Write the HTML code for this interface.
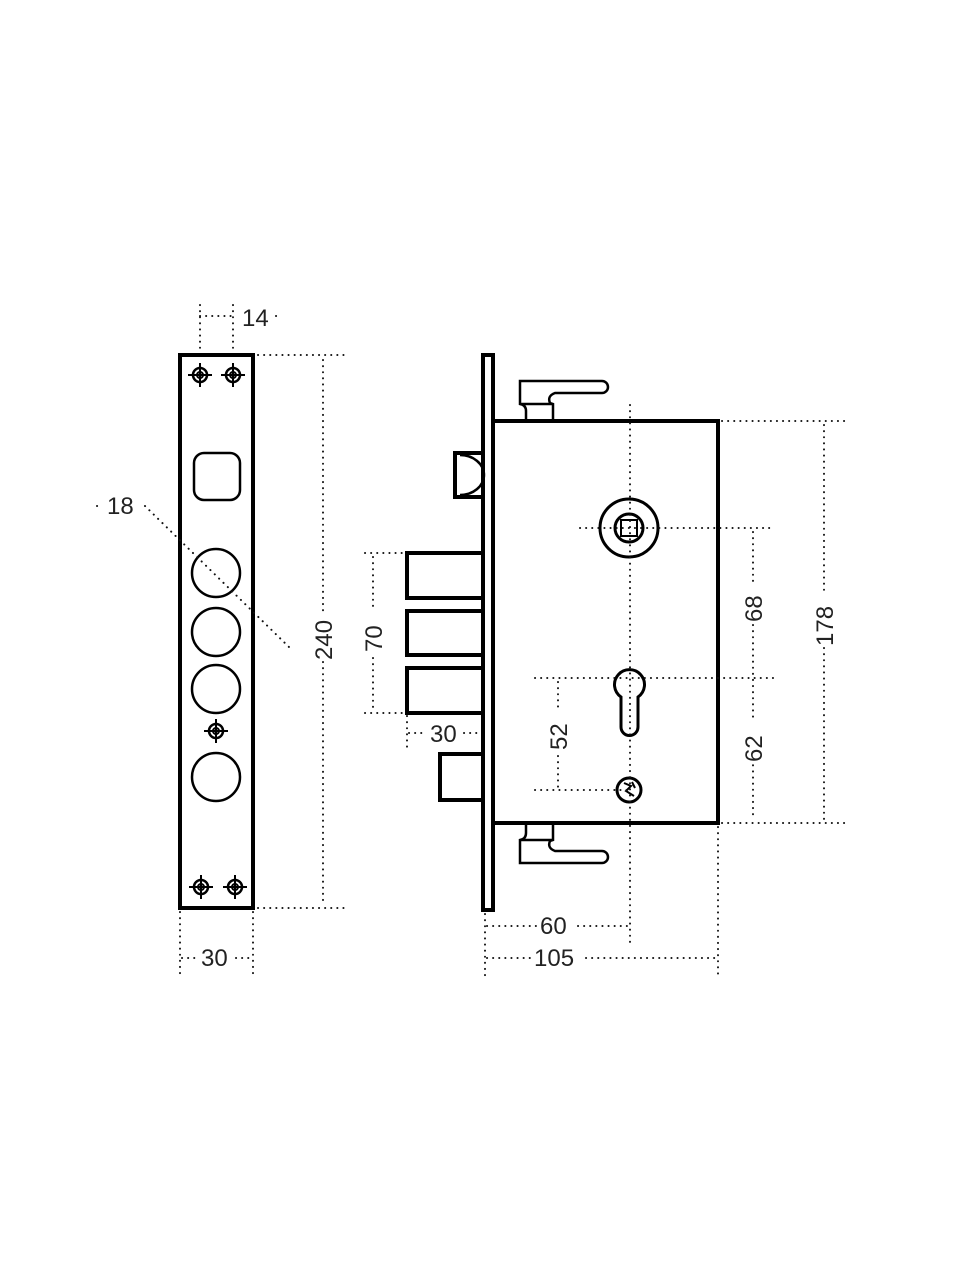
<!DOCTYPE html>
<html><head><meta charset="utf-8"><style>
html,body{margin:0;padding:0;background:#fff}
svg{display:block}
text{font-family:"Liberation Sans",sans-serif;font-size:24px;fill:#222}
.d{stroke:#111;stroke-width:2;stroke-dasharray:0.1 6;stroke-linecap:round;fill:none}
.s{stroke:#000;fill:none}
</style></head><body>
<svg width="960" height="1280" viewBox="0 0 960 1280" xmlns="http://www.w3.org/2000/svg">
<defs>
<g id="scr"><circle r="7" class="s" stroke-width="2.5"/><circle r="3" class="s" stroke-width="2"/><line x1="-12" y1="0" x2="12" y2="0" stroke="#000" stroke-width="2"/><line x1="0" y1="-12" x2="0" y2="12" stroke="#000" stroke-width="2"/></g>
</defs>
<!-- left faceplate -->
<rect x="180" y="355" width="73" height="553" class="s" stroke-width="4"/>
<use href="#scr" x="200" y="375"/><use href="#scr" x="233" y="375"/>
<use href="#scr" x="201" y="887"/><use href="#scr" x="235" y="887"/>
<use href="#scr" x="216" y="731"/>
<rect x="194" y="453" width="46" height="47" rx="10" class="s" stroke-width="2.5"/>
<circle cx="216" cy="573" r="24" class="s" stroke-width="2.5"/>
<circle cx="216" cy="632" r="24" class="s" stroke-width="2.5"/>
<circle cx="216" cy="689" r="24" class="s" stroke-width="2.5"/>
<circle cx="216" cy="777" r="24" class="s" stroke-width="2.5"/>
<!-- left dims -->
<line x1="200" y1="305" x2="200" y2="352" class="d"/><line x1="233" y1="305" x2="233" y2="352" class="d"/>
<line x1="200" y1="316" x2="236" y2="316" class="d"/>
<text x="242" y="326">14</text><line x1="276" y1="316" x2="282" y2="316" class="d"/>
<line x1="258" y1="355" x2="348" y2="355" class="d"/><line x1="258" y1="908" x2="348" y2="908" class="d"/>
<line x1="323" y1="360" x2="323" y2="612" class="d"/><line x1="323" y1="662" x2="323" y2="905" class="d"/>
<text transform="translate(332,660) rotate(-90)">240</text>
<line x1="180" y1="912" x2="180" y2="978" class="d"/><line x1="253" y1="912" x2="253" y2="978" class="d"/>
<line x1="182" y1="958" x2="198" y2="958" class="d"/><line x1="236" y1="958" x2="252" y2="958" class="d"/>
<text x="201" y="966">30</text>
<text x="107" y="514">18</text><line x1="97" y1="506" x2="100" y2="506" class="d"/>
<line x1="145" y1="506" x2="290" y2="648" class="d"/>
<!-- right view -->
<rect x="483" y="355" width="10" height="555" class="s" stroke-width="4"/>
<rect x="493" y="421" width="225" height="402" class="s" stroke-width="4"/>
<rect x="407" y="553" width="76" height="45" class="s" stroke-width="4"/>
<rect x="407" y="611" width="76" height="44" class="s" stroke-width="4"/>
<rect x="407" y="668" width="76" height="45" class="s" stroke-width="4"/>
<rect x="455" y="453" width="28" height="44" class="s" stroke-width="4"/>
<path d="M460 455 A24 20 0 0 1 460 495" class="s" stroke-width="2.5"/>
<rect x="440" y="754" width="43" height="46" class="s" stroke-width="4"/>
<!-- top handle -->
<path d="M526 421 L526 411 Q526 405 520 404 L520 381 L602 381 A6 6 0 0 1 602 393 L555 393 Q547 396 550 403 L553 404 L553 421 M520 404 L553 404" class="s" stroke-width="2.5"/>
<!-- bottom handle -->
<path d="M526 823 L526 833 Q526 839 520 840 L520 863 L602 863 A6 6 0 0 0 602 851 L555 851 Q547 848 550 841 L553 840 L553 823 M520 840 L553 840" class="s" stroke-width="2.5"/>
<!-- spindle -->
<circle cx="629" cy="528" r="29" class="s" stroke-width="3"/>
<circle cx="629" cy="528" r="14" class="s" stroke-width="3"/>
<rect x="621" y="520" width="16" height="16" class="s" stroke-width="2"/>
<!-- cylinder -->
<path d="M621 697 A15 15 0 1 1 638 697 L638 727 A8.5 8.5 0 0 1 621 727 Z" class="s" stroke-width="3"/>
<circle cx="629" cy="790" r="12" class="s" stroke-width="3"/>
<path d="M624 783 L631 786 L626 791 L634 796 M632 782 L635 788" class="s" stroke-width="2"/>
<!-- right dims -->
<line x1="630" y1="405" x2="630" y2="945" class="d"/>
<line x1="580" y1="528" x2="775" y2="528" class="d"/>
<line x1="535" y1="678" x2="775" y2="678" class="d"/>
<line x1="535" y1="790" x2="630" y2="790" class="d"/>
<line x1="753" y1="532" x2="753" y2="585" class="d"/><line x1="753" y1="625" x2="753" y2="820" class="d"/>
<text transform="translate(762,622) rotate(-90)">68</text>
<rect x="740" y="718" width="26" height="46" fill="#fff"/>
<text transform="translate(762,762) rotate(-90)">62</text>
<line x1="722" y1="421" x2="845" y2="421" class="d"/><line x1="722" y1="823" x2="845" y2="823" class="d"/>
<line x1="824" y1="425" x2="824" y2="590" class="d"/><line x1="824" y1="648" x2="824" y2="820" class="d"/>
<text transform="translate(833,646) rotate(-90)">178</text>
<line x1="558" y1="682" x2="558" y2="708" class="d"/><line x1="558" y1="756" x2="558" y2="787" class="d"/>
<text transform="translate(567,750) rotate(-90)">52</text>
<line x1="365" y1="553" x2="404" y2="553" class="d"/><line x1="365" y1="713" x2="404" y2="713" class="d"/>
<line x1="373" y1="557" x2="373" y2="608" class="d"/><line x1="373" y1="658" x2="373" y2="710" class="d"/>
<text transform="translate(382,652) rotate(-90)">70</text>
<line x1="407" y1="716" x2="407" y2="752" class="d"/>
<line x1="409" y1="733" x2="426" y2="733" class="d"/><line x1="464" y1="733" x2="481" y2="733" class="d"/>
<text x="430" y="742">30</text>
<line x1="485" y1="914" x2="485" y2="978" class="d"/><line x1="718" y1="827" x2="718" y2="978" class="d"/>
<line x1="487" y1="926" x2="537" y2="926" class="d"/><line x1="578" y1="926" x2="628" y2="926" class="d"/>
<text x="540" y="934">60</text>
<line x1="487" y1="958" x2="530" y2="958" class="d"/><line x1="586" y1="958" x2="716" y2="958" class="d"/>
<text x="534" y="966">105</text>
</svg>
</body></html>
